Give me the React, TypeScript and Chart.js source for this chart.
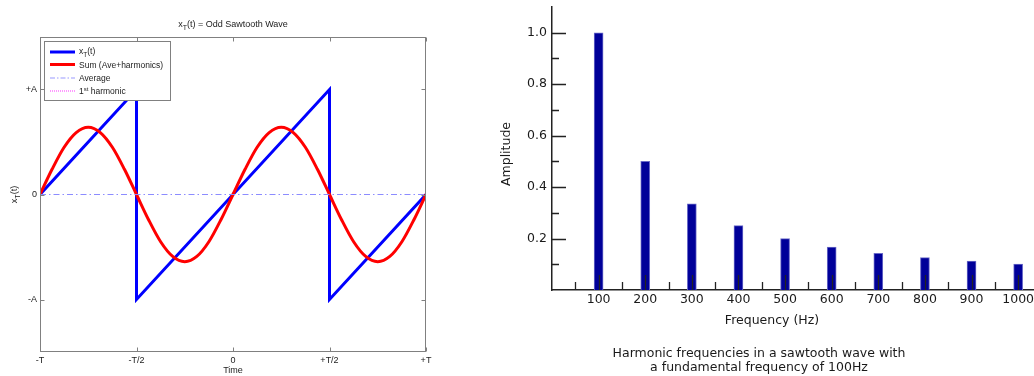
import React, { useEffect, useRef } from 'react';
import { Chart, registerables } from 'chart.js';

Chart.register(...registerables);

// ---------- Left chart data (time in units of T, amplitude in units of A) ----------
const timeTickValues = [-1, -0.5, 0, 0.5, 1];
const timeTickLabels = ['-T', '-T/2', '0', '+T/2', '+T'];
const ampTickValues = [-1, 0, 1];
const ampTickLabels = ['-A', '0', '+A'];

const sawTime = [-1, -0.5, -0.5, 0.5, 0.5, 1];
const sawValue = [0, 1, -1, 1, -1, 0];

const sumTime = [
  -1, -0.9375, -0.875, -0.8125, -0.75, -0.6875, -0.625, -0.5625, -0.5,
  -0.4375, -0.375, -0.3125, -0.25, -0.1875, -0.125, -0.0625, 0,
  0.0625, 0.125, 0.1875, 0.25, 0.3125, 0.375, 0.4375, 0.5,
  0.5625, 0.625, 0.6875, 0.75, 0.8125, 0.875, 0.9375, 1,
];
const sumValue = [
  0, 0.24, 0.45, 0.59, 0.64, 0.59, 0.45, 0.24, 0,
  -0.24, -0.45, -0.59, -0.64, -0.59, -0.45, -0.24, 0,
  0.24, 0.45, 0.59, 0.64, 0.59, 0.45, 0.24, 0,
  -0.24, -0.45, -0.59, -0.64, -0.59, -0.45, -0.24, 0,
];
const avgTime = [-1, 1];
const avgValue = [0, 0];

// ---------- Right chart data ----------
const frequencies = [100, 200, 300, 400, 500, 600, 700, 800, 900, 1000];
const amplitudes = [1.0, 0.5, 0.335, 0.25, 0.2, 0.167, 0.143, 0.126, 0.112, 0.101];
const freqMajorTicks = [100, 200, 300, 400, 500, 600, 700, 800, 900, 1000];
const freqMinorTicks = [50, 150, 250, 350, 450, 550, 650, 750, 850, 950];
const ampMajorTicks = [0.2, 0.4, 0.6, 0.8, 1.0];
const ampMinorTicks = [0.1, 0.3, 0.5, 0.7, 0.9];

type Part = { t: string; s: number; dy?: number };

function drawRich(
  ctx: CanvasRenderingContext2D,
  parts: Part[],
  x: number,
  y: number,
  family: string,
  align: 'left' | 'center',
  color: string
) {
  let total = 0;
  const widths: number[] = [];
  for (const p of parts) {
    ctx.font = `${p.s}px ${family}`;
    const w = ctx.measureText(p.t).width;
    widths.push(w);
    total += w;
  }
  let cx = align === 'center' ? x - total / 2 : x;
  ctx.fillStyle = color;
  ctx.textAlign = 'left';
  ctx.textBaseline = 'alphabetic';
  parts.forEach((p, i) => {
    ctx.font = `${p.s}px ${family}`;
    ctx.fillText(p.t, cx, y + (p.dy || 0));
    cx += widths[i];
  });
}

const LEFT_FONT = '"Liberation Sans", Arial, sans-serif';
const RIGHT_FONT = '"DejaVu Sans", Verdana, sans-serif';
const RIGHT_SIZE = 12.5;

const leftDecor = {
  id: 'leftDecor',
  afterDraw(chart: any) {
    const ctx: CanvasRenderingContext2D = chart.ctx;
    const { left, right, top, bottom } = chart.chartArea;
    const xs = chart.scales.x;
    const ys = chart.scales.y;
    ctx.save();
    // box
    ctx.strokeStyle = '#808080';
    ctx.lineWidth = 1;
    const L = Math.round(left) + 0.5;
    const R = Math.round(right) - 0.5;
    const T = Math.round(top) + 0.5;
    const B = Math.round(bottom) - 0.5;
    ctx.strokeRect(L, T, R - L, B - T);
    // inward ticks
    ctx.beginPath();
    for (const v of timeTickValues) {
      const px = Math.round(xs.getPixelForValue(v)) + 0.5;
      ctx.moveTo(px, B);
      ctx.lineTo(px, B - 4);
      ctx.moveTo(px, T);
      ctx.lineTo(px, T + 4);
    }
    for (const v of ampTickValues) {
      const py = Math.round(ys.getPixelForValue(v)) + 0.5;
      ctx.moveTo(L, py);
      ctx.lineTo(L + 4, py);
      ctx.moveTo(R, py);
      ctx.lineTo(R - 4, py);
    }
    ctx.stroke();

    // title
    drawRich(
      ctx,
      [
        { t: 'x', s: 9 },
        { t: 'T', s: 7, dy: 3 },
        { t: '(t) = Odd Sawtooth Wave', s: 9 },
      ],
      (left + right) / 2,
      26.5,
      LEFT_FONT,
      'center',
      '#222'
    );

    // y label (rotated)
    ctx.save();
    ctx.translate(14, (top + bottom) / 2);
    ctx.rotate(-Math.PI / 2);
    drawRich(
      ctx,
      [
        { t: 'x', s: 9 },
        { t: 'T', s: 7, dy: 3 },
        { t: '(t)', s: 9 },
      ],
      0,
      3,
      LEFT_FONT,
      'center',
      '#222'
    );
    ctx.restore();

    // legend
    ctx.fillStyle = '#ffffff';
    ctx.fillRect(44.5, 41.5, 126, 59);
    ctx.strokeStyle = '#808080';
    ctx.lineWidth = 1;
    ctx.strokeRect(44.5, 41.5, 126, 59);
    const rows = [52, 64.5, 77.5, 91];
    const sx0 = 50;
    const sx1 = 75;
    const tx = 79;
    // row 1
    ctx.setLineDash([]);
    ctx.strokeStyle = '#0000ff';
    ctx.lineWidth = 3;
    ctx.beginPath();
    ctx.moveTo(sx0, rows[0]);
    ctx.lineTo(sx1, rows[0]);
    ctx.stroke();
    drawRich(ctx, [{ t: 'x', s: 8.5 }, { t: 'T', s: 6.5, dy: 3 }, { t: '(t)', s: 8.5 }], tx, rows[0] + 2, LEFT_FONT, 'left', '#222');
    // row 2
    ctx.strokeStyle = '#ff0000';
    ctx.lineWidth = 3;
    ctx.beginPath();
    ctx.moveTo(sx0, rows[1]);
    ctx.lineTo(sx1, rows[1]);
    ctx.stroke();
    drawRich(ctx, [{ t: 'Sum (Ave+harmonics)', s: 8.5 }], tx, rows[1] + 3, LEFT_FONT, 'left', '#222');
    // row 3
    ctx.strokeStyle = '#9999ff';
    ctx.lineWidth = 1;
    ctx.setLineDash([5, 2, 1.5, 2]);
    ctx.beginPath();
    ctx.moveTo(sx0, rows[2] + 0.5);
    ctx.lineTo(sx1, rows[2] + 0.5);
    ctx.stroke();
    drawRich(ctx, [{ t: 'Average', s: 8.5 }], tx, rows[2] + 3, LEFT_FONT, 'left', '#222');
    // row 4
    ctx.strokeStyle = '#ff77ff';
    ctx.lineWidth = 1.5;
    ctx.setLineDash([1, 1]);
    ctx.beginPath();
    ctx.moveTo(sx0, rows[3]);
    ctx.lineTo(sx1, rows[3]);
    ctx.stroke();
    ctx.setLineDash([]);
    drawRich(
      ctx,
      [{ t: '1', s: 8.5 }, { t: 'st', s: 6, dy: -3.5 }, { t: ' harmonic', s: 8.5 }],
      tx,
      rows[3] + 3,
      LEFT_FONT,
      'left',
      '#222'
    );
    ctx.restore();
  },
};

const rightDecor = {
  id: 'rightDecor',
  afterDraw(chart: any) {
    const ctx: CanvasRenderingContext2D = chart.ctx;
    const { left, bottom } = chart.chartArea;
    const xs = chart.scales.x;
    const ys = chart.scales.y;
    ctx.save();
    ctx.strokeStyle = '#222';
    ctx.lineWidth = 1.3;
    ctx.beginPath();
    for (const v of ampMajorTicks) {
      const py = Math.round(ys.getPixelForValue(v)) + 0.5;
      ctx.moveTo(left, py);
      ctx.lineTo(left + 14, py);
    }
    for (const v of ampMinorTicks) {
      const py = Math.round(ys.getPixelForValue(v)) + 0.5;
      ctx.moveTo(left, py);
      ctx.lineTo(left + 7, py);
    }
    for (const v of freqMajorTicks) {
      const px = Math.round(xs.getPixelForValue(v)) + 0.5;
      ctx.moveTo(px, bottom);
      ctx.lineTo(px, bottom - 15);
    }
    for (const v of freqMinorTicks) {
      const px = Math.round(xs.getPixelForValue(v)) + 0.5;
      ctx.moveTo(px, bottom);
      ctx.lineTo(px, bottom - 8);
    }
    ctx.stroke();

    ctx.fillStyle = '#1a1a1a';
    ctx.font = `${RIGHT_SIZE}px ${RIGHT_FONT}`;
    ctx.textAlign = 'center';
    ctx.textBaseline = 'middle';
    ctx.fillText('Frequency (Hz)', 332, 321);
    ctx.fillText('Harmonic frequencies in a sawtooth wave with', 319, 354);
    ctx.fillText('a fundamental frequency of 100Hz', 319, 367.5);

    ctx.save();
    ctx.translate(67, 154);
    ctx.rotate(-Math.PI / 2);
    ctx.fillText('Amplitude', 0, 0);
    ctx.restore();
    ctx.restore();
  },
};

export default function App() {
  const leftRef = useRef<HTMLCanvasElement | null>(null);
  const rightRef = useRef<HTMLCanvasElement | null>(null);

  useEffect(() => {
    const toXY = (xs: number[], ys: number[]) => xs.map((x, i) => ({ x, y: ys[i] }));

    const left = new Chart(leftRef.current as HTMLCanvasElement, {
      type: 'line',
      data: {
        datasets: [
          {
            label: 'Average',
            data: toXY(avgTime, avgValue),
            borderColor: '#8c8cff',
            borderWidth: 1,
            borderDash: [6, 3, 1.5, 3],
            pointRadius: 0,
            order: 0,
          },
          {
            label: 'Sum (Ave+harmonics)',
            data: toXY(sumTime, sumValue),
            borderColor: '#ff0000',
            borderWidth: 3,
            pointRadius: 0,
            cubicInterpolationMode: 'monotone',
            order: 1,
          },
          {
            label: '1st harmonic',
            data: toXY(sumTime, sumValue),
            borderColor: '#ff77ff',
            borderWidth: 1,
            borderDash: [1, 1],
            pointRadius: 0,
            cubicInterpolationMode: 'monotone',
            order: 2,
          },
          {
            label: 'xT(t)',
            data: toXY(sawTime, sawValue),
            borderColor: '#0000ff',
            borderWidth: 3,
            pointRadius: 0,
            tension: 0,
            order: 3,
          },
        ],
      } as any,
      options: {
        responsive: false,
        animation: false,
        layout: { padding: { top: 37, right: 14, left: 0, bottom: 0 } },
        plugins: { legend: { display: false }, tooltip: { enabled: false }, title: { display: false } },
        scales: {
          x: {
            type: 'linear',
            min: -1,
            max: 1,
            afterBuildTicks: (s: any) => {
              s.ticks = timeTickValues.map((v) => ({ value: v }));
            },
            afterFit: (s: any) => {
              s.height = 24;
              s.paddingLeft = 0;
              s.paddingRight = 0;
            },
            ticks: {
              callback: (_v: any, i: number) => timeTickLabels[i],
              font: { family: LEFT_FONT, size: 9 },
              color: '#222',
              padding: 3,
              maxRotation: 0,
              autoSkip: false,
            },
            grid: { display: false, drawTicks: false },
            border: { display: false },
            title: { display: true, text: 'Time', font: { family: LEFT_FONT, size: 9 }, color: '#222', padding: 0 },
          },
          y: {
            type: 'linear',
            min: -1.5,
            max: 1.5,
            afterBuildTicks: (s: any) => {
              s.ticks = ampTickValues.map((v) => ({ value: v }));
            },
            afterFit: (s: any) => {
              s.width = 40;
              s.paddingTop = 0;
              s.paddingBottom = 0;
            },
            ticks: {
              callback: (_v: any, i: number) => ampTickLabels[i],
              font: { family: LEFT_FONT, size: 9 },
              color: '#222',
              padding: 3,
              autoSkip: false,
            },
            grid: { display: false, drawTicks: false },
            border: { display: false },
          },
        },
      } as any,
      plugins: [leftDecor],
    });

    const right = new Chart(rightRef.current as HTMLCanvasElement, {
      type: 'bar',
      data: {
        datasets: [
          {
            label: 'Amplitude',
            data: frequencies.map((f, i) => ({ x: f, y: amplitudes[i] })),
            backgroundColor: '#000099',
            borderColor: '#6a6ac8',
            borderWidth: 1,
            barThickness: 9,
          },
        ],
      } as any,
      options: {
        responsive: false,
        animation: false,
        layout: { padding: { top: 7, right: 0, left: 0, bottom: 0 } },
        plugins: { legend: { display: false }, tooltip: { enabled: false }, title: { display: false } },
        scales: {
          x: {
            type: 'linear',
            min: 0,
            max: 1034,
            offset: false,
            afterBuildTicks: (s: any) => {
              s.ticks = freqMajorTicks.map((v) => ({ value: v }));
            },
            afterFit: (s: any) => {
              s.height = 86;
              s.paddingLeft = 0;
              s.paddingRight = 0;
            },
            ticks: {
              callback: (v: any) => String(v),
              font: { family: RIGHT_FONT, size: RIGHT_SIZE },
              color: '#1a1a1a',
              padding: 2,
              maxRotation: 0,
              autoSkip: false,
            },
            grid: { display: false, drawTicks: false },
            border: { display: true, color: '#222', width: 1.5 },
          },
          y: {
            type: 'linear',
            min: 0,
            max: 1.1,
            afterBuildTicks: (s: any) => {
              s.ticks = ampMajorTicks.map((v) => ({ value: v }));
            },
            afterFit: (s: any) => {
              s.width = 112;
              s.paddingTop = 0;
              s.paddingBottom = 0;
            },
            ticks: {
              callback: (v: any) => Number(v).toFixed(1),
              font: { family: RIGHT_FONT, size: RIGHT_SIZE },
              color: '#1a1a1a',
              padding: 5,
              autoSkip: false,
            },
            grid: { display: false, drawTicks: false },
            border: { display: true, color: '#222', width: 1.5 },
          },
        },
      } as any,
      plugins: [rightDecor],
    });

    return () => {
      left.destroy();
      right.destroy();
    };
  }, []);

  return (
    <div
      style={{
        position: 'absolute',
        left: 0,
        top: 0,
        width: 1034,
        height: 376,
        overflow: 'hidden',
        background: '#ffffff',
      }}
    >
      <canvas
        ref={leftRef}
        width={440}
        height={376}
        style={{ position: 'absolute', left: 0, top: 0, display: 'block' }}
      />
      <canvas
        ref={rightRef}
        width={594}
        height={376}
        style={{ position: 'absolute', left: 440, top: 0, display: 'block' }}
      />
    </div>
  );
}
